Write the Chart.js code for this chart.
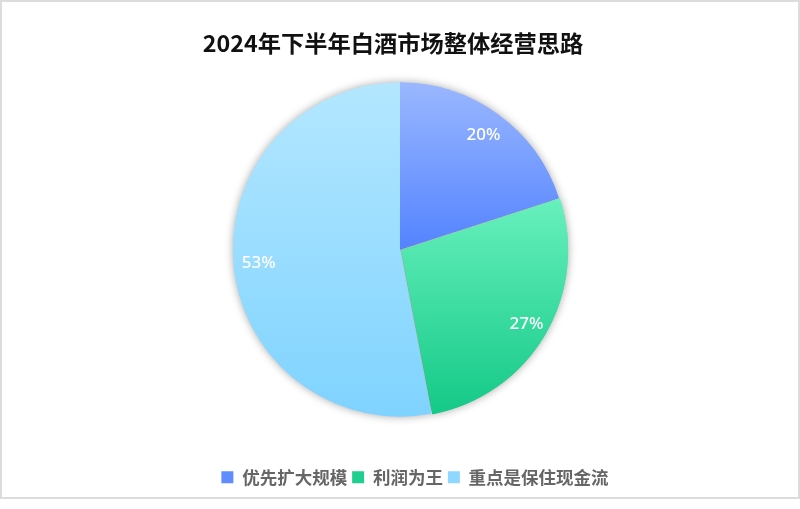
<!DOCTYPE html>
<html>
<head>
<meta charset="utf-8">
<script src="https://cdn.jsdelivr.net/npm/chart.js@4.4.1/dist/chart.umd.min.js"></script>
<style>
  html, body { margin: 0; padding: 0; background: #fff; }
  #frame { position: absolute; left: 0; top: 0; width: 800px; height: 499px; box-sizing: border-box; border: 2px solid #dcdcdc; }
  #wrap { position: absolute; left: 0; top: 0; width: 796px; height: 495px; }
</style>
</head>
<body>
<div id="frame"><div id="wrap"><canvas id="pie"></canvas></div></div>
<script>
const chartTitle = '2024年下半年白酒市场整体经营思路';
const categories = ['优先扩大规模', '利润为王', '重点是保住现金流'];
const shares = [20, 27, 53];

// styling per slice
const topColors = ['#9ab7ff', '#68f0bd', '#b4e7ff'];
const bottomColors = ['#5383ff', '#14c987', '#7fd3ff'];
const legendColors = ['#5f8cff', '#1fcf8f', '#8ed8ff'];
const sliceOffsets = [0, 5, 0];
const titleShiftX = -7;
const legendShiftX = 15;

// vertical gradient over each slice's own bounding box
function sliceGradient(ctx) {
  const i = ctx.dataIndex;
  const arc = ctx.chart.getDatasetMeta(0).data[i];
  if (!arc || !arc.outerRadius) return bottomColors[i];
  const { x, y, startAngle, endAngle, outerRadius: r } = arc;
  const ys = [y, y + Math.sin(startAngle) * r, y + Math.sin(endAngle) * r];
  [Math.PI / 2, -Math.PI / 2, Math.PI * 1.5].forEach(a => {
    if (a > startAngle && a < endAngle) ys.push(y + Math.sin(a) * r);
  });
  const g = ctx.chart.ctx.createLinearGradient(0, Math.min(...ys), 0, Math.max(...ys));
  g.addColorStop(0, topColors[i]);
  g.addColorStop(1, bottomColors[i]);
  return g;
}

// nudge a layout box (title / legend) sideways when it draws
function shiftDraw(box, dx) {
  if (!box || box._shifted) return;
  const draw = box.draw;
  box.draw = function (area) {
    this.ctx.save();
    this.ctx.translate(dx, 0);
    draw.call(this, area);
    this.ctx.restore();
  };
  box._shifted = true;
}

const blockShift = {
  id: 'blockShift',
  afterLayout(chart) {
    shiftDraw(chart.titleBlock, titleShiftX);
    shiftDraw(chart.legend, legendShiftX);
  }
};

// soft shadow under the pie
const pieShadow = {
  id: 'pieShadow',
  beforeDatasetsDraw(chart) {
    const ctx = chart.ctx;
    ctx.save();
    ctx.shadowColor = 'rgba(0,0,0,0.35)';
    ctx.shadowBlur = 8;
    chart.getDatasetMeta(0).data.forEach(arc => arc.draw(ctx));
    ctx.restore();
  }
};

// percentage text inside slices
const pctLabels = {
  id: 'pctLabels',
  afterDatasetsDraw(chart) {
    const ctx = chart.ctx;
    ctx.save();
    ctx.fillStyle = '#ffffff';
    ctx.font = '500 17px "Noto Sans", sans-serif';
    ctx.textAlign = 'center';
    ctx.textBaseline = 'middle';
    chart.getDatasetMeta(0).data.forEach((arc, i) => {
      const mid = (arc.startAngle + arc.endAngle) / 2;
      const rr = arc.outerRadius * 0.85 + sliceOffsets[i];
      ctx.fillText(shares[i] + '%', arc.x + Math.cos(mid) * rr, arc.y + Math.sin(mid) * rr);
    });
    ctx.restore();
  }
};

const chart = new Chart(document.getElementById('pie'), {
  type: 'pie',
  data: {
    labels: categories,
    datasets: [{
      data: shares,
      backgroundColor: sliceGradient,
      borderWidth: 0,
      offset: sliceOffsets,
      radius: 167,
    }],
  },
  options: {
    responsive: true,
    maintainAspectRatio: false,
    animation: false,
    events: [],
    layout: { padding: { top: 0, bottom: 1 } },
    plugins: {
      title: {
        display: true,
        text: chartTitle,
        color: '#111',
        font: { family: '"Noto Sans CJK SC", sans-serif', size: 23.25, weight: 'bold' },
        padding: { top: 27, bottom: 8 },
      },
      legend: {
        position: 'bottom',
        title: { display: true, text: '', padding: { top: 15, bottom: 0 } },
        labels: {
          color: '#333',
          font: { family: '"Noto Sans CJK SC", sans-serif', size: 17.5, weight: 'bold' },
          boxWidth: 12,
          boxHeight: 12,
          padding: 5,
          generateLabels: (c) => categories.map((name, i) => ({
            text: name,
            fillStyle: legendColors[i],
            strokeStyle: legendColors[i],
            lineWidth: 0,
            index: i,
          })),
        },
      },
      tooltip: { enabled: false },
    },
  },
  plugins: [blockShift, pieShadow, pctLabels],
});
chart.update('none');
</script>
</body>
</html>
